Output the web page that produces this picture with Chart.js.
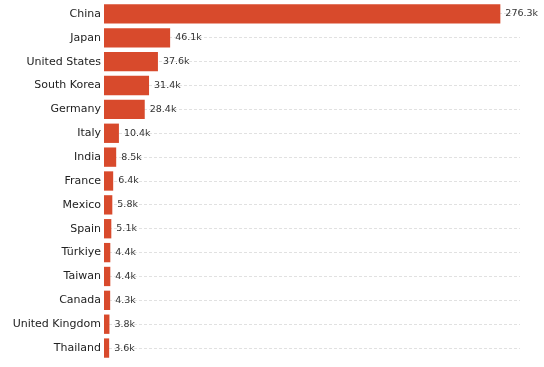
<!DOCTYPE html>
<html>
<head>
<meta charset="utf-8">
<script src="https://cdn.jsdelivr.net/npm/chart.js@4"></script>
<style>
  html, body { margin: 0; padding: 0; background: #fff; }
  #wrap { width: 544px; height: 367px; }
</style>
</head>
<body>
<div id="wrap"><canvas id="chart"></canvas></div>
<script>
// values in thousands
const countries = ["China", "Japan", "United States", "South Korea", "Germany", "Italy", "India",
  "France", "Mexico", "Spain", "Türkiye", "Taiwan", "Canada", "United Kingdom", "Thailand"];
const values = [276.3, 46.1, 37.6, 31.4, 28.4, 10.4, 8.5, 6.4, 5.8, 5.1, 4.4, 4.4, 4.3, 3.8, 3.6];

// draws "276.3k" style labels after each bar
const valueLabels = {
  id: 'valueLabels',
  afterDatasetsDraw(chart) {
    const ctx = chart.ctx;
    const meta = chart.getDatasetMeta(0);
    ctx.save();
    ctx.font = "9.5px 'DejaVu Sans'";
    ctx.fillStyle = '#333';
    ctx.textBaseline = 'middle';
    meta.data.forEach((bar, i) => {
      ctx.fillText(values[i].toFixed(1) + 'k', bar.x + 5, bar.y);
    });
    ctx.restore();
  }
};

new Chart(document.getElementById('chart'), {
  type: 'bar',
  data: {
    labels: countries,
    datasets: [{
      data: values,
      backgroundColor: '#d84a2c',
      borderWidth: 0,
      barPercentage: 0.9,
      categoryPercentage: 0.9
    }]
  },
  plugins: [valueLabels],
  options: {
    indexAxis: 'y',
    responsive: true,
    maintainAspectRatio: false,
    animation: false,
    layout: { padding: { top: 2, right: 24, bottom: 7, left: 0 } },
    scales: {
      x: {
        min: 0,
        max: 290,
        display: false
      },
      y: {
        afterFit(scale) {
          scale.width = 104;
          scale.paddingTop = 0;
          scale.paddingBottom = 0;
        },
        grid: {
          offset: false,
          color: '#d9d9d9',
          lineWidth: 0.8,
          drawTicks: false
        },
        border: { display: false, dash: [3, 2] },
        ticks: {
          color: '#222',
          padding: 3,
          font: { family: "'DejaVu Sans'", size: 11 }
        }
      }
    },
    plugins: {
      legend: { display: false },
      tooltip: { enabled: false }
    }
  }
});
</script>
</body>
</html>
